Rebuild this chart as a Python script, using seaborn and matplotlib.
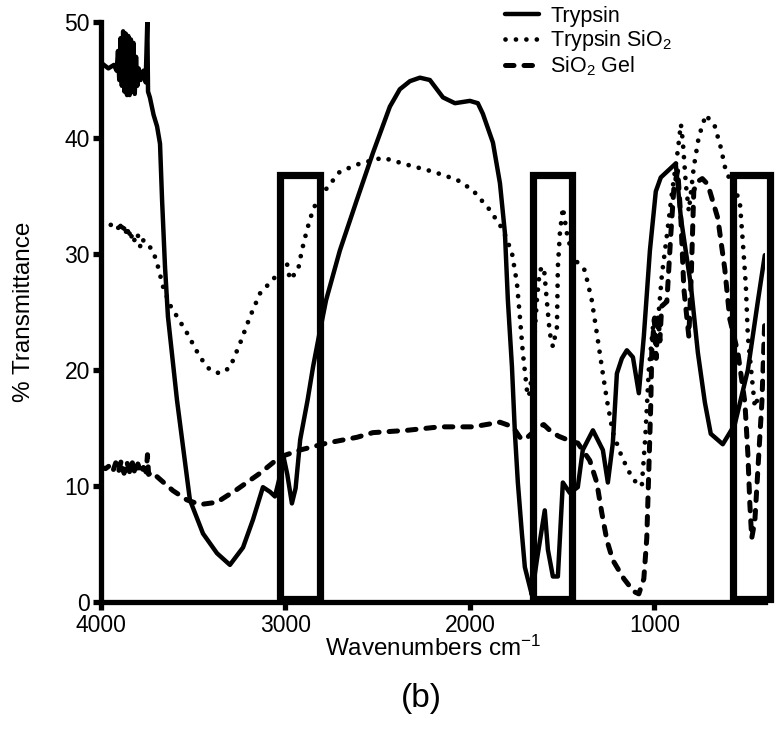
import matplotlib
matplotlib.use("Agg")
import matplotlib.pyplot as plt
import seaborn as sns
from matplotlib.patches import Rectangle

# ---------------- data ----------------
labels = ["Trypsin", "Trypsin SiO$_\\mathregular{2}$", "SiO$_\\mathregular{2}$ Gel"]

tryp_w = [4000, 3960, 3930, 3915, 3908, 3901, 3894, 3887, 3880, 3873, 3866, 3859, 3852,
          3845, 3838, 3831, 3824, 3817, 3810, 3803, 3796, 3785, 3770, 3758, 3749, 3745,
          3735, 3715, 3696, 3680, 3669, 3653, 3637, 3588, 3518, 3447, 3371, 3301, 3230,
          3176, 3122, 3084, 3057, 3035, 3010, 2990, 2965, 2945, 2920, 2880, 2850, 2815,
          2780, 2705, 2612, 2526, 2434, 2380, 2325, 2271, 2217, 2146, 2081, 2000, 1957,
          1930, 1875, 1837, 1810, 1794, 1772, 1756, 1740, 1718, 1702, 1675, 1664, 1637,
          1594, 1577, 1550, 1523, 1496, 1458, 1415, 1388, 1333, 1279, 1252, 1225, 1203,
          1176, 1149, 1116, 1084, 1057, 1024, 992, 965, 884, 856, 802, 764, 726, 694,
          629, 564, 493, 439, 401]
tryp_v = [46.5, 46.0, 46.3, 45.8, 47.5, 45.0, 48.6, 44.5, 49.2, 44.0, 49.0, 43.7, 48.8,
          43.7, 48.5, 44.0, 48.2, 43.8, 47.0, 44.5, 46.0, 45.0, 45.8, 44.8, 50.0, 44.0,
          43.5, 42.0, 41.0, 39.5, 34.7, 28.9, 24.6, 17.4, 8.8, 5.9, 4.2, 3.2, 4.7,
          7.1, 9.9, 9.5, 9.1, 10.5, 12.5, 11.0, 8.5, 9.8, 14.0, 17.4, 20.3, 23.2,
          26.0, 30.3, 34.7, 38.7, 42.7, 44.2, 44.9, 45.2, 45.0, 43.5, 43.0, 43.2, 43.0,
          42.1, 39.6, 36.1, 31.8, 26.0, 20.3, 14.6, 10.3, 5.9, 3.0, 1.3, 0.6, 3.6,
          7.9, 4.5, 2.2, 2.2, 10.3, 9.4, 9.9, 13.1, 14.8, 13.1, 10.3, 13.7, 19.7,
          21.0, 21.7, 21.1, 18.0, 22.9, 30.3, 35.4, 36.6, 37.8, 33.1, 27.3, 21.5, 17.2, 14.5,
          13.6, 15.3, 20.0, 25.9, 29.9]

tsio_w = [4000, 3951, 3913, 3900, 3890, 3880, 3870, 3860, 3850, 3840, 3830, 3815, 3800,
          3785, 3770, 3718, 3691, 3664, 3626, 3534, 3463, 3409, 3355, 3301, 3246, 3192,
          3138, 3068, 2992, 2976, 2932, 2911, 2883, 2851, 2824, 2705, 2596, 2472, 2341,
          2200, 2070, 1984, 1892, 1821, 1772, 1745, 1729, 1713, 1691, 1680, 1664, 1637,
          1621, 1599, 1583, 1567, 1550, 1528, 1523, 1512, 1496, 1474, 1442, 1377, 1339,
          1312, 1285, 1257, 1225, 1176, 1133, 1095, 1068, 1049, 1030, 1003, 976, 959,
          932, 905, 873, 856, 846, 829, 813, 786, 759, 721, 672, 640, 613, 537, 520,
          504, 493, 472, 455, 440]
tsio_v = [32.8, 32.5, 32.6, 31.9, 32.8, 31.8, 32.5, 31.5, 32.3, 31.2, 31.8, 31.0, 31.6,
          30.5, 31.2, 30.3, 28.9, 27.2, 25.6, 23.2, 21.1, 20.0, 19.7, 20.2, 22.3, 24.6,
          26.6, 27.8, 29.2, 27.8, 28.6, 30.3, 32.1, 33.8, 34.7, 37.1, 37.8, 38.3, 37.7,
          37.1, 36.4, 35.5, 33.8, 32.1, 30.1, 27.5, 24.6, 21.5, 18.3, 17.7, 19.5, 26.0,
          28.6, 28.9, 26.0, 23.2, 22.0, 23.7, 28.9, 31.8, 34.0, 31.8, 29.7, 28.6, 26.0,
          23.2, 20.3, 17.4, 14.6, 12.5, 11.1, 10.2, 10.0, 14.2, 20.0, 24.4, 25.0, 28.2,
          31.6, 35.2, 38.9, 41.2, 39.8, 36.0, 33.7, 37.5, 40.1, 42.0, 41.0, 39.2, 37.2, 34.6, 31.0,
          27.3, 22.9, 19.5, 16.8, 17.5]

gel_w = [4000, 3975, 3950, 3935, 3920, 3905, 3890, 3875, 3860, 3845, 3830, 3815, 3800,
         3785, 3770, 3755, 3748, 3742, 3725, 3696, 3610, 3534, 3463, 3371, 3263, 3138,
         3030, 2921, 2775, 2612, 2526, 2341, 2163, 1984, 1837, 1767, 1729, 1702, 1660,
         1637, 1600, 1567, 1520, 1474, 1440, 1415, 1350, 1312, 1285, 1257, 1225, 1165,
         1111, 1084, 1057, 1041, 1030, 1019, 1014, 1000, 990, 980, 970, 960, 932, 911,
         894, 873, 856, 840, 813, 800, 786, 760, 740, 710, 656, 618, 591, 547, 509,
         493, 482, 472, 455, 439, 417, 401]
gel_v = [11.6, 11.5, 11.8, 11.3, 12.0, 11.2, 12.2, 11.1, 12.1, 11.2, 12.0, 11.0, 11.9,
         11.1, 11.6, 11.2, 12.7, 11.0, 11.2, 10.8, 9.6, 8.8, 8.4, 8.6, 9.7, 11.1,
         12.5, 13.1, 13.7, 14.2, 14.6, 14.8, 15.1, 15.1, 15.5, 15.1, 14.2, 14.0, 14.6,
         15.0, 15.3, 14.8, 14.3, 14.0, 13.8, 13.7, 12.2, 10.3, 7.7, 5.3, 3.6, 2.0,
         0.9, 0.7, 2.0, 5.5, 11.3, 17.2, 21.5, 24.4, 21.0, 24.8, 22.5, 25.5, 25.9, 31.6,
         35.7, 37.2, 33.0, 27.0, 22.9, 28.0, 35.5, 36.3, 36.5, 36.0, 33.1, 28.7, 24.4, 21.5, 17.2,
         12.8, 8.4, 5.5, 7.0, 11.3, 17.2, 24.4]

box_left = [3030, 1660, 572]
box_right = [2810, 1445, 374]
box_bottom = 0.3
box_top = 36.8

x_ticks = [4000, 3000, 2000, 1000]
y_ticks = [0, 10, 20, 30, 40, 50]

# ---------------- figure ----------------
sns.set_theme(style="ticks")
plt.rcParams["font.family"] = ["Liberation Sans", "DejaVu Sans"]
plt.rcParams["mathtext.fontset"] = "custom"
plt.rcParams["mathtext.rm"] = "Liberation Sans"
plt.rcParams["mathtext.it"] = "Liberation Sans:italic"

fig = plt.figure(figsize=(7.77, 7.31), dpi=100)
ax = fig.add_axes([101 / 777, 129 / 731, 664 / 777, 580 / 731])

sns.lineplot(x=tryp_w, y=tryp_v, ax=ax, sort=False, estimator=None, color="black",
             lw=3.2, solid_joinstyle="round", label=labels[0])
sns.lineplot(x=tsio_w, y=tsio_v, ax=ax, sort=False, estimator=None, color="black",
             lw=3.4, linestyle=(0, (0.01, 2.2)), dash_capstyle="round", label=labels[1])
sns.lineplot(x=gel_w, y=gel_v, ax=ax, sort=False, estimator=None, color="black",
             lw=3.6, linestyle=(0, (1.7, 2.0)), dash_capstyle="round", label=labels[2])

for l, r in zip(box_left, box_right):
    ax.add_patch(Rectangle((r, box_bottom), l - r, box_top - box_bottom, fill=False,
                           ec="black", lw=5.2, joinstyle="miter", clip_on=False, zorder=5))

ax.set_xlim(4000, 400)
ax.set_ylim(0, 50)
ax.set_xticks(x_ticks)
ax.set_yticks(y_ticks)
ax.set_xticklabels([str(t) for t in x_ticks])
ax.set_yticklabels([str(t) for t in y_ticks])
sns.despine(ax=ax)
for s in ("left", "bottom"):
    ax.spines[s].set_linewidth(3.8)
    ax.spines[s].set_color("black")
ax.tick_params(axis="both", which="major", length=6, width=3.8, color="black",
               labelsize=16.5, labelcolor="black", pad=2)
ax.tick_params(axis="x", pad=3)

ax.set_xlabel("Wavenumbers cm$^\\mathregular{-1}$", fontsize=17.5, color="black")
ax.xaxis.set_label_coords(0.5, -0.058)
ax.set_ylabel("% Transmittance", fontsize=17.5, color="black")
ax.yaxis.set_label_coords(-0.1, 0.5)

leg = ax.legend(loc="upper left", bbox_to_anchor=(505 / 777, 1 - 6 / 731),
                bbox_transform=fig.transFigure, frameon=False, fontsize=15.5,
                handlelength=1.6, handletextpad=0.5, labelspacing=0.05,
                borderaxespad=0, borderpad=0)
for t in leg.get_texts():
    t.set_color("black")

fig.text(421 / 777, 1 - 699 / 731, "(b)", fontsize=24, ha="center", va="center",
         color="black")

fig.savefig("out.png", dpi=100, facecolor="white")
